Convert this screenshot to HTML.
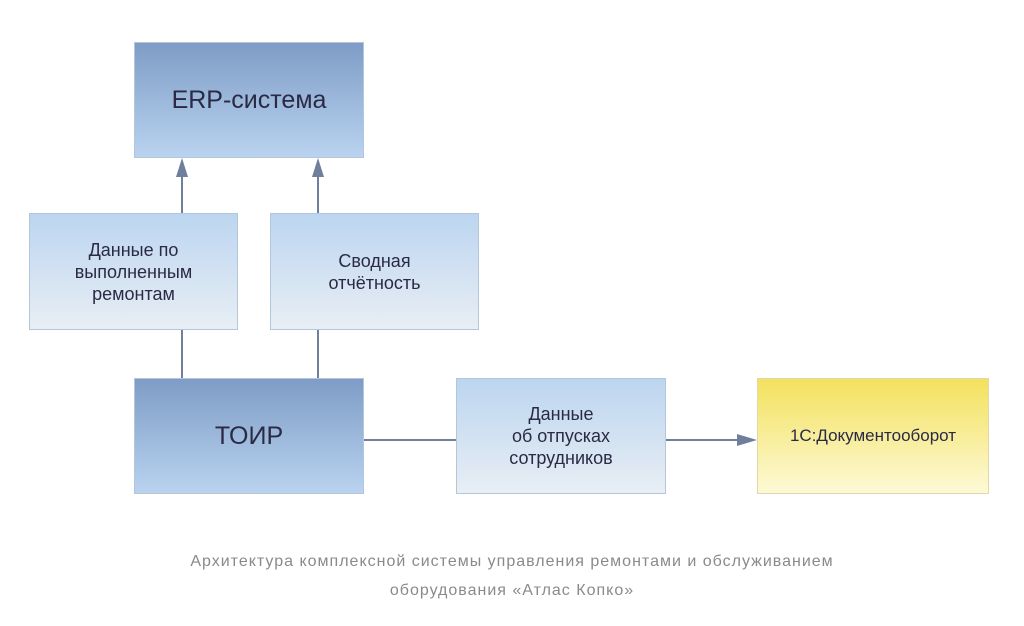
<!DOCTYPE html>
<html><head><meta charset="utf-8"><style>
body{margin:0;width:1024px;height:626px;background:#fff;position:relative;font-family:"Liberation Sans","DejaVu Sans",sans-serif;overflow:hidden}
.b{position:absolute;box-sizing:border-box;border:1px solid #b4c6dc;display:flex;align-items:center;justify-content:center;text-align:center;color:#2a2a44}
.dk{background:linear-gradient(#7e9cc6,#b9d3ef);font-size:25px}
.lt{background:linear-gradient(#bcd5f0,#e8eef4);font-size:18px;line-height:22px}
.ye{background:linear-gradient(#f3e15e,#fdf9d6);font-size:17px;border-color:#e0d8a8}
.cap{position:absolute;left:0;width:1024px;text-align:center;color:#8a8a8a;font-size:16px;letter-spacing:1px}
</style></head><body>
<svg width="1024" height="626" style="position:absolute;left:0;top:0">
<g stroke="#6f7f9c" stroke-width="2" fill="#6f7f9c">
<line x1="182" y1="213" x2="182" y2="175"/><polygon points="182,158 176,177 188,177" stroke="none"/>
<line x1="318" y1="213" x2="318" y2="175"/><polygon points="318,158 312,177 324,177" stroke="none"/>
<line x1="182" y1="330" x2="182" y2="378"/>
<line x1="318" y1="330" x2="318" y2="378"/>
<line x1="364" y1="440" x2="456" y2="440"/>
<line x1="666" y1="440" x2="740" y2="440"/><polygon points="757,440 737,434 737,446" stroke="none"/>
</g></svg>
<div class="b dk" style="left:134px;top:42px;width:230px;height:116px">ERP-система</div>
<div class="b lt" style="left:29px;top:213px;width:209px;height:117px">Данные по<br>выполненным<br>ремонтам</div>
<div class="b lt" style="left:270px;top:213px;width:209px;height:117px">Сводная<br>отчётность</div>
<div class="b dk" style="left:134px;top:378px;width:230px;height:116px">ТОИР</div>
<div class="b lt" style="left:456px;top:378px;width:210px;height:116px">Данные<br>об отпусках<br>сотрудников</div>
<div class="b ye" style="left:757px;top:378px;width:232px;height:116px">1С:Документооборот</div>
<div class="cap" style="top:553px">Архитектура комплексной системы управления ремонтами и обслуживанием</div>
<div class="cap" style="top:582px">оборудования «Атлас Копко»</div>
</body></html>
